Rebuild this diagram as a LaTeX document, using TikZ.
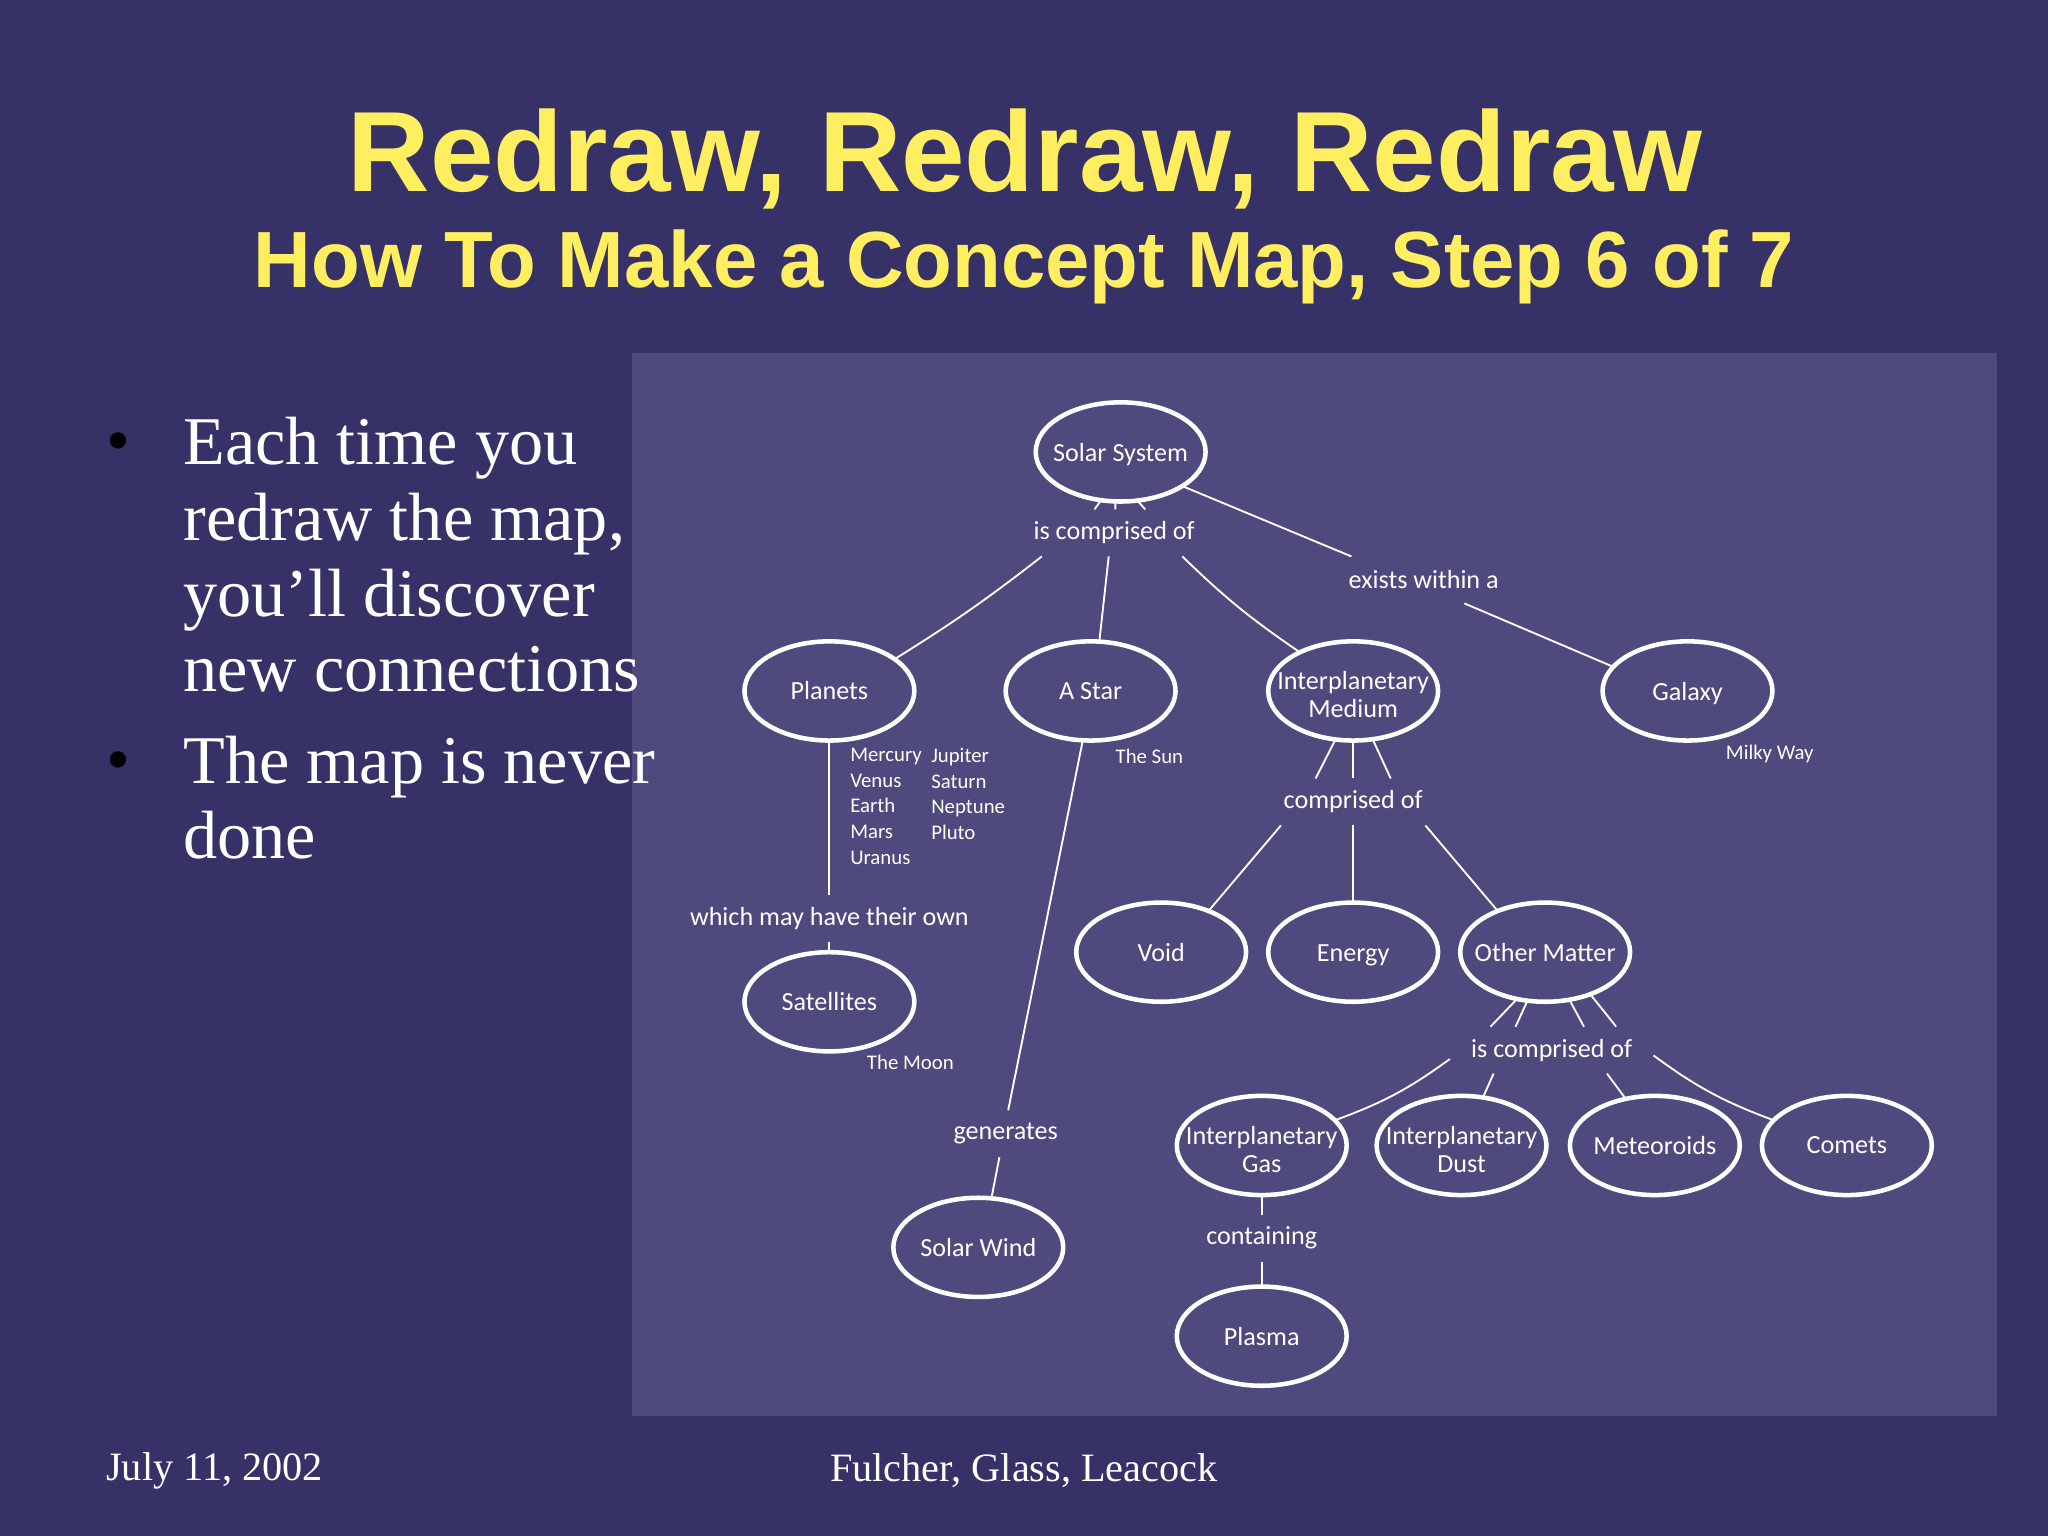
\documentclass[tikz,border=0pt]{standalone}
\usepackage{fontspec}
\setmainfont{Liberation Serif}
\newfontfamily\headfont{Liberation Sans}
\newfontfamily\mapfont{Carlito}
\usetikzlibrary{shapes.geometric}
\definecolor{slidebg}{RGB}{54,50,104}
\definecolor{panelbg}{RGB}{78,74,125}
\definecolor{headyellow}{RGB}{255,238,95}
\newcommand{\lowered}{\rule{0pt}{9.6pt}}
\newcommand{\balanced}{\rule{0pt}{8.4pt}}
\tikzset{
	concept/.style={ellipse,draw=white,line width=1.7pt,inner xsep=-10pt,inner ysep=0pt,outer sep=0pt,minimum width=63.7pt,minimum height=37.2pt,text=white,align=center,font=\mapfont\fontsize{9.8}{10.6}\selectfont},
	linking/.style={inner sep=0pt,outer sep=0pt,text=white,font=\mapfont\fontsize{9.8}{11}\selectfont,minimum height=17.6pt},
	example/.style={inner sep=0pt,outer sep=0pt,text=white,align=left,font=\mapfont\fontsize{7.8}{9.6}\selectfont},
	link/.style={draw=white,line width=0.7pt},
	bodytext/.style={inner sep=0pt,text=white,align=left,font=\fontsize{25.6}{28.4}\selectfont},
	bulletmark/.style={inner sep=0pt,text=black,font=\fontsize{25.6}{28.4}\selectfont},
	foot/.style={inner sep=0pt,text=white,font=\fontsize{15.1}{18}\selectfont}
}
\begin{document}
\begin{tikzpicture}[x=0.4898pt,y=0.4898pt,yscale=-1,xscale=1]
	\useasboundingbox (0,0) rectangle (1568,1176);
	\fill [slidebg] (0,0) rectangle (1568,1176);
	\fill [panelbg] (484,270) rectangle (1529,1084);

	% Heading
	\node (title) [inner sep=0pt,text=headyellow,font=\headfont\bfseries\fontsize{42.8}{46}\selectfont] at (785,122) {Redraw, Redraw, Redraw};
	\node (subtitle) [inner sep=0pt,text=headyellow,font=\headfont\bfseries\fontsize{29.9}{33}\selectfont] at (784,204) {How To Make a Concept Map, Step 6 of 7};

	% Bullets
	\node (bulleta) [bulletmark] at (91,343) {\textbullet};
	\node (bulletb) [bulletmark] at (91,587) {\textbullet};
	\node (pointa) [bodytext,anchor=north west] at (140,319) {Each time you\\redraw the map,\\you’ll discover\\new connections};
	\node (pointb) [bodytext,anchor=north west] at (140,563) {The map is never\\done};

	% Concepts
	\node (solar) [concept] at (858,346) {\balanced Solar System};
	\node (planets) [concept] at (635,529) {Planets};
	\node (star) [concept] at (835,529) {A Star};
	\node (medium) [concept] at (1036,529) {\lowered Interplanetary\\Medium};
	\node (galaxy) [concept] at (1292,529) {\balanced Galaxy};
	\node (void) [concept] at (889,729) {Void};
	\node (energy) [concept] at (1036,729) {\balanced Energy};
	\node (matter) [concept] at (1183,729) {Other Matter};
	\node (satellites) [concept] at (635,767) {Satellites};
	\node (gas) [concept] at (966,877) {\lowered Interplanetary\\Gas};
	\node (dust) [concept] at (1119,877) {\lowered Interplanetary\\Dust};
	\node (meteoroids) [concept] at (1267,877) {Meteoroids};
	\node (comets) [concept] at (1414,877) {Comets};
	\node (wind) [concept] at (749,955) {Solar Wind};
	\node (plasma) [concept] at (966,1023) {Plasma};

	% Linking words
	\node (compa) [linking,minimum width=60.8pt] at (853,408) {is comprised of};
	\node (exists) [linking,minimum width=56.8pt] at (1090,444) {exists within a};
	\node (own) [linking] at (635,703) {which may have their own};
	\node (generates) [linking] at (770,868) {generates};
	\node (compb) [linking,minimum width=54.8pt] at (1036,614) {comprised of};
	\node (compc) [linking,minimum width=76.4pt] at (1188,804) {is comprised of};
	\node (containing) [linking] at (966,948) {containing};

	% Examples
	\node (sun) [example] at (880,579) {The Sun};
	\node (milky) [example] at (1355,577) {Milky Way};
	\node (moon) [example] at (697,813) {The Moon};
	\node (inner) [example,anchor=north west] at (651,573) {Mercury\\Venus\\Earth\\Mars\\Uranus};
	\node (outer) [example,anchor=north west] at (713,573) {Jupiter\\Saturn\\Neptune\\Pluto};

	% Connectors
	\draw [link] (solar.-112) -- (compa.130);
	\draw [link] (solar.-96) -- (compa.87);
	\draw [link] (solar.-71) -- (compa.37);
	\draw [link] (solar.-29) -- (exists.162);
	\draw [link] (exists.-30) -- (galaxy.162);
	\draw [link] (compa.-162) to [bend right=3] (planets.26);
	\draw [link] (compa.-103) -- (star.80);
	\draw [link] (compa.-19) to [bend left=5] (medium.144);
	\draw [link] (planets.south) -- (own.north);
	\draw [link] (own.south) -- (satellites.north);
	\draw [link] (star.-99) -- (generates.84);
	\draw [link] (generates.-105) -- (wind.75);
	\draw [link] (medium.-110) -- (compb.148);
	\draw [link] (medium.south) -- (compb.north);
	\draw [link] (medium.-68) -- (compb.32);
	\draw [link] (compb.-162) -- (void.41);
	\draw [link] (compb.south) -- (energy.north);
	\draw [link] (compb.-18) -- (matter.139);
	\draw [link] (matter.-121) -- (compc.159);
	\draw [link] (matter.-110) -- (compc.147);
	\draw [link] (matter.-63) -- (compc.36);
	\draw [link] (matter.-43) -- (compc.20);
	\draw [link] (compc.185) to [bend right=8] (gas.19);
	\draw [link] (compc.-158) -- (dust.66);
	\draw [link] (compc.-23) -- (meteoroids.122);
	\draw [link] (compc.-3) to [bend left=8] (comets.161);
	\draw [link] (gas.south) -- (containing.north);
	\draw [link] (containing.south) -- (plasma.north);

	% Footer
	\node (date) [foot,anchor=west] at (81,1126) {July 11, 2002};
	\node (names) [foot] at (784,1126) {Fulcher, Glass, Leacock};
\end{tikzpicture}
\end{document}
